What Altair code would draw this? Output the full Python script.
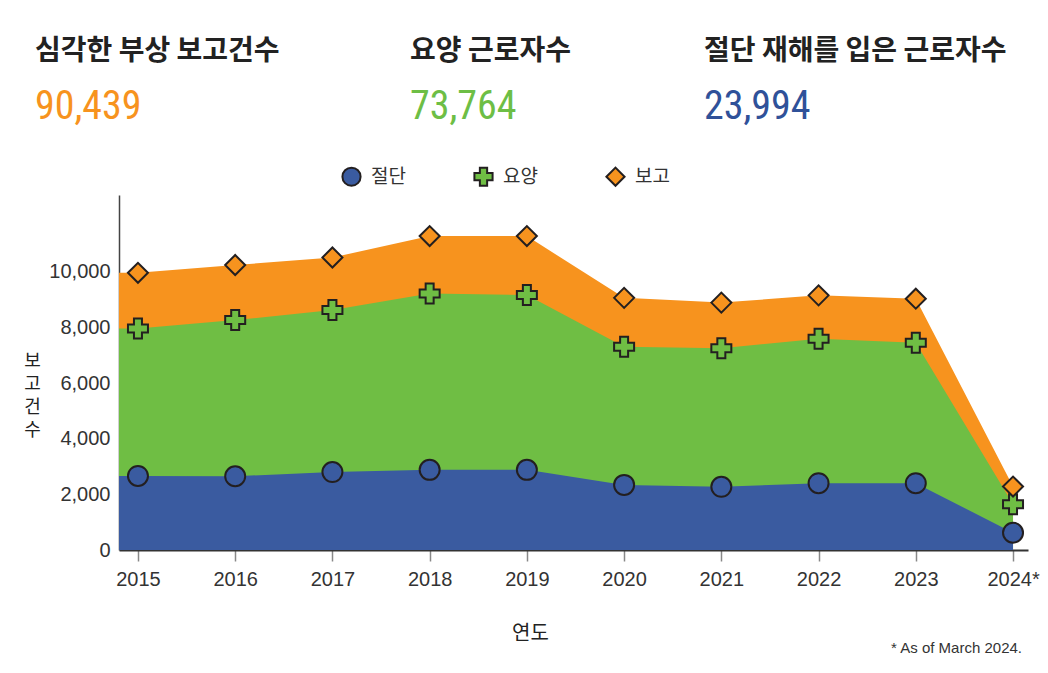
import altair as alt
import pandas as pd

# ---------------- data ----------------
YEARS = [2015, 2016, 2017, 2018, 2019, 2020, 2021, 2022, 2023, 2024]
REPORTS = [9960, 10240, 10510, 11280, 11280, 9060, 8890, 9150, 9030, 2280]   # 보고
HOSP = [7960, 8260, 8620, 9220, 9160, 7300, 7250, 7590, 7450, 1640]          # 요양
AMPUT = [2660, 2650, 2800, 2880, 2880, 2340, 2270, 2400, 2400, 620]          # 절단

SERIES = ["절단", "요양", "보고"]
COLORS = ["#3A5BA0", "#6FBE44", "#F7931E"]
SHAPES = ["circle", "cross", "diamond"]

HEADLINES = ["심각한 부상 보고건수", "요양 근로자수", "절단 재해를 입은 근로자수"]
TOTALS = ["90,439", "73,764", "23,994"]
TOTAL_COLORS = ["#F7931E", "#6DBE45", "#2F5199"]

X_DOMAIN = [2014.805, 2024.154]
Y_DOMAIN = [0, 12756]
Y_TICKS = [0, 2000, 4000, 6000, 8000, 10000]

KR = "Noto Sans CJK KR"
NUM = "Liberation Sans, Noto Sans CJK KR"
INK = "#231F20"

# wide table for areas (area starts flush at left edge of plot)
area_df = pd.DataFrame({
    "year": [X_DOMAIN[0]] + YEARS,
    "보고": [REPORTS[0]] + REPORTS,
    "요양": [HOSP[0]] + HOSP,
    "절단": [AMPUT[0]] + AMPUT,
})

# long table for markers
pts = []
for s, vals in zip(SERIES, [AMPUT, HOSP, REPORTS]):
    for y, v in zip(YEARS, vals):
        pts.append({"year": y, "series": s, "value": v})
pts_df = pd.DataFrame(pts)

x_scale = alt.Scale(domain=X_DOMAIN, nice=False, zero=False)
y_scale = alt.Scale(domain=Y_DOMAIN, nice=False)

x_axis = alt.Axis(
    values=YEARS, format="d",
    labelExpr="datum.value == 2024 ? '2024*' : datum.value",
    title="연도", titleFont=KR, titleFontSize=20, titleFontWeight="normal",
    titleColor="#222", titleX=411, titleY=83, titleBaseline="middle",
    labelFont=NUM, labelFontSize=20, labelColor="#333", labelPadding=8,
    tickSize=11, tickColor="#888", tickWidth=1.5,
    domainColor="#333", domainWidth=2, grid=False,
)
y_axis = alt.Axis(
    values=Y_TICKS, format=",d",
    title=["보", "고", "건", "수"], titleAngle=0, titleFont=KR, titleFontSize=18,
    titleFontWeight="normal", titleColor="#222", titleLineHeight=23,
    titleAlign="center", titleBaseline="middle", titleX=-87, titleY=166,
    labelFont=NUM, labelFontSize=20, labelColor="#333", labelPadding=9,
    ticks=False, domainColor="#444", domainWidth=1.5, grid=False,
)

base_area = alt.Chart(area_df)
area_rep = base_area.mark_area(color=COLORS[2], opacity=1).encode(
    x=alt.X("year:Q", scale=x_scale, axis=x_axis),
    y=alt.Y("보고:Q", scale=y_scale, axis=y_axis),
)
area_hosp = base_area.mark_area(color=COLORS[1], opacity=1).encode(
    x=alt.X("year:Q", scale=x_scale), y=alt.Y("요양:Q", scale=y_scale)
)
area_amp = base_area.mark_area(color=COLORS[0], opacity=1).encode(
    x=alt.X("year:Q", scale=x_scale), y=alt.Y("절단:Q", scale=y_scale)
)

legend = alt.Legend(
    title=None, orient="none", legendX=222, legendY=-29, direction="horizontal",
    labelFont=KR, labelFontSize=19, labelColor="#333", labelOffset=9,
    symbolSize=330, symbolStrokeWidth=2, symbolStrokeColor=INK,
    columnPadding=64,
)
points = alt.Chart(pts_df).mark_point(
    filled=True, size=400, stroke=INK, strokeWidth=2, opacity=1
).encode(
    x=alt.X("year:Q", scale=x_scale),
    y=alt.Y("value:Q", scale=y_scale),
    color=alt.Color("series:N", scale=alt.Scale(domain=SERIES, range=COLORS), legend=legend),
    shape=alt.Shape("series:N", scale=alt.Scale(domain=SERIES, range=SHAPES), legend=legend),
)

HEAD_X = [-84, 291, 585]
texts = []
for i in range(3):
    texts.append(
        alt.Chart(pd.DataFrame({"t": [HEADLINES[i]]})).mark_text(
            align="left", baseline="middle", font=KR, fontSize=28,
            fontWeight="bold", color="#222"
        ).encode(text="t:N", x=alt.value(HEAD_X[i]), y=alt.value(-143))
    )
    texts.append(
        alt.Chart(pd.DataFrame({"t": [TOTALS[i]]})).mark_text(
            align="left", baseline="middle",
            font="Liberation Sans Narrow, Roboto Condensed, Liberation Sans",
            fontSize=40, color=TOTAL_COLORS[i]
        ).encode(text="t:N", x=alt.value(HEAD_X[i]), y=alt.value(-88))
    )

footnote = alt.Chart(pd.DataFrame({"t": ["* As of March 2024."]})).mark_text(
    align="right", baseline="middle", font=NUM, fontSize=15, color="#333"
).encode(text="t:N", x=alt.value(903), y=alt.value(453))

chart = alt.layer(
    area_rep, area_hosp, area_amp, points, *texts, footnote
).properties(
    width=909, height=355,
    padding={"left": 111, "top": 187, "right": 12, "bottom": 115},
    autosize=alt.AutoSizeParams(type="none"),
    background="white",
).configure_view(stroke=None)

chart.save("out.html", embed_options={"renderer": "svg", "actions": False})
